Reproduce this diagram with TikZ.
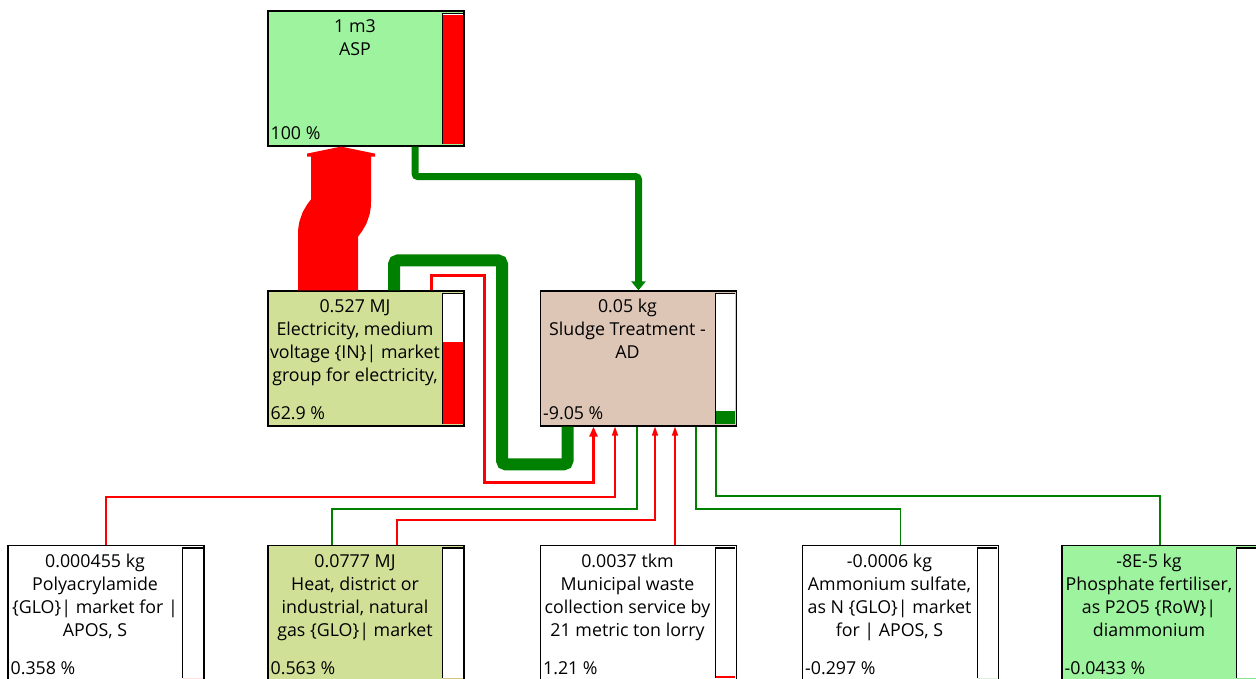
\documentclass[tikz,border=0pt]{standalone}
\usepackage{fontspec}
\setmainfont{Open Sans}
\usetikzlibrary{arrows.meta,calc}
\definecolor{scGreenL}{RGB}{158,243,158}
\definecolor{scOlive} {RGB}{208,224,150}
\definecolor{scTan}   {RGB}{222,198,182}
\definecolor{scRed}   {RGB}{255,  0,  0}
\definecolor{scGreen} {RGB}{  0,128,  0}

\begin{document}
\begin{tikzpicture}[x=1pt,y=-1pt,
    every node/.style={font=\fontsize{17.8}{23}\selectfont},
    box/.style={rectangle,draw=black,line width=1.2pt,minimum width=196pt,
                minimum height=135pt,inner sep=0pt},
    title/.style={anchor=north,align=center,inner sep=0pt},
    pct/.style={anchor=base west,inner sep=0pt},
    redF/.style={scRed,line width=1.6pt,-{Triangle[length=9pt,width=6pt]}},
    greenF/.style={scGreen,line width=1.4pt}
  ]
  \useasboundingbox (0,0) rectangle (1256,678);
  \clip (0,0) rectangle (1256,678);
  % Top: reference process
  \node[box,fill=scGreenL] (asp) at (366,78.5) {};
  % Middle row
  \node[box,fill=scOlive] (elec) at (366,358.5) {};
  \node[box,fill=scTan] (sludge) at (638.5,358.5) {};
  % Bottom row
  \node[box,fill=white] (poly) at (106,613) {};
  \node[box,fill=scOlive] (heat) at (366,613) {};
  \node[box,fill=white] (waste) at (638.5,613) {};
  \node[box,fill=white] (amsul) at (900.5,613) {};
  \node[box,fill=scGreenL] (phos) at (1160,613) {};
  % Texts
  \node[title] at ($(asp.north)+(-11,6)$) {\strut 1 m3\\ASP};
  \node[title] at ($(elec.north)+(-11,6)$) {\strut 0.527 MJ\\Electricity, medium\\
        voltage \{IN\}| market\\group for electricity,};
  \node[title] at ($(sludge.north)+(-11,6)$) {\strut 0.05 kg\\Sludge Treatment -\\AD};
  \node[title] at ($(poly.north)+(-11,6)$) {\strut 0.000455 kg\\Polyacrylamide\\
        \{GLO\}| market for |\\APOS, S};
  \node[title] at ($(heat.north)+(-11,6)$) {\strut 0.0777 MJ\\Heat, district or\\
        industrial, natural\\gas \{GLO\}| market};
  \node[title] at ($(waste.north)+(-11,6)$) {\strut 0.0037 tkm\\Municipal waste\\
        collection service by\\21 metric ton lorry};
  \node[title] at ($(amsul.north)+(-11,6)$) {\strut -0.0006 kg\\Ammonium sulfate,\\
        as N \{GLO\}| market\\for | APOS, S};
  \node[title] at ($(phos.north)+(-11,6)$) {\strut -8E-5 kg\\Phosphate fertiliser,\\
        as P2O5 \{RoW\}|\\diammonium};
  \node[pct] at ($(asp.south west)+(3,-7)$) {100 \%};
  \node[pct] at ($(elec.south west)+(3,-7)$) {62.9 \%};
  \node[pct] at ($(sludge.south west)+(3,-7)$) {-9.05 \%};
  \node[pct] at ($(poly.south west)+(3,-7)$) {0.358 \%};
  \node[pct] at ($(heat.south west)+(3,-7)$) {0.563 \%};
  \node[pct] at ($(waste.south west)+(3,-7)$) {1.21 \%};
  \node[pct] at ($(amsul.south west)+(3,-7)$) {-0.297 \%};
  \node[pct] at ($(phos.south west)+(3,-7)$) {-0.0433 \%};
  % Score bars
  \foreach \n/\f/\c in {asp/1/scRed,elec/0.629/scRed,sludge/0.095/scGreen,
      poly/0/scRed,heat/0/scRed,waste/0.02/scRed,amsul/0/scGreen,phos/0/scGreen}{
    \fill[white] ($(\n.south east)+(-22,-3)$) rectangle ($(\n.north east)+(-2,3)$);
    \fill[\c] ($(\n.south east)+(-22,-3)$) rectangle ++(20,-129*\f);
    \draw[black,line width=1.2pt] ($(\n.south east)+(-22,-3)$) --
          ($(\n.north east)+(-22,3)$) -- ($(\n.north east)+(-2,3)$);
  }
  % Big flow: electricity into ASP
  \draw[scRed,line width=60pt] ($(elec.north)+(-38,0)$) -- ++(0,-56)
        .. controls +(0,-16) and +(0,16) .. ($(asp.south)+(-25,55)$)
        -- ($(asp.south)+(-25,8)$);
  \fill[scRed] ($(asp.south)+(-59,10)$) -- ($(asp.south)+(-59,7)$)
        -- ($(asp.south)+(-25,0)$) -- ($(asp.south)+(9,7)$)
        -- ($(asp.south)+(9,10)$) -- cycle;
  % ASP to sludge
  \draw[scGreen,line width=7pt,rounded corners=3pt,
        -{Triangle[length=9pt,width=14pt]}]
        ($(asp.south)+(49,0)$) -- ++(0,30) -| (sludge.north);
  % Electricity to sludge
  \draw[scGreen,line width=12pt,rounded corners=4pt]
        ($(elec.north)+(28,0)$) -- ++(0,-30) -- ++(108,0) -- ++(0,204)
        -| ($(sludge.south)+(-71,0)$);
  \draw[redF,line width=3pt,-{Triangle[length=10pt,width=8pt]}]
        ($(elec.north)+(65,0)$) -- ++(0,-15) -- ++(53,0) -- ++(0,207)
        -| ($(sludge.south)+(-45,0)$);
  % Inputs from the bottom row
  \draw[redF] (poly.north) -- ++(0,-48) -| ($(sludge.south)+(-23.5,0)$);
  \draw[greenF] ($(heat.north)+(-34,0)$) -- ++(0,-36) -| ($(sludge.south)+(-1.5,0)$);
  \draw[redF] ($(heat.north)+(31,0)$) -- ++(0,-25) -| ($(sludge.south)+(16.5,0)$);
  \draw[redF] ($(waste.north)+(36.5,0)$) -- ($(sludge.south)+(36.5,0)$);
  \draw[greenF] (amsul.north) -- ++(0,-36) -| ($(sludge.south)+(57.5,0)$);
  \draw[greenF] (phos.north) -- ++(0,-49) -| ($(sludge.south)+(77.5,0)$);
\end{tikzpicture}
\end{document}
